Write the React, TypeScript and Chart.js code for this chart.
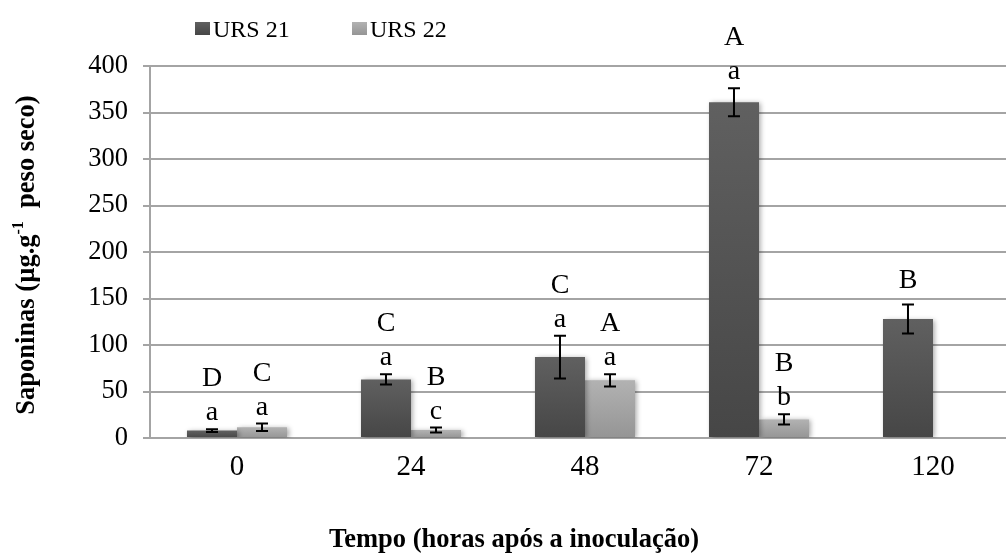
import React, { useEffect, useRef } from "react";
import { Chart, registerables } from "chart.js";

Chart.register(...registerables);

// ---- data ----
const categories = ["0", "24", "48", "72", "120"];
const seriesNames = ["URS 21", "URS 22"];
const urs21 = [8, 63, 87, 361, 128];
const urs22: (number | null)[] = [11.5, 8.5, 62, 20, null];
const urs21Err = [1.5, 5.5, 23, 15, 15.5];
const urs22Err = [4, 2.7, 6.5, 5.5, 0];
const urs21Upper = ["D", "C", "C", "A", "B"];
const urs21Lower = ["a", "a", "a", "a", ""];
const urs22Upper = ["C", "B", "A", "B", ""];
const urs22Lower = ["a", "c", "a", "b", ""];
const yMin = 0;
const yMax = 400;
const yStep = 50;
const yTitleMain = "Saponinas (µg.g";
const yTitleSup = "-1";
const yTitleEnd = "  peso seco)";
const xTitle = "Tempo (horas após a inoculação)";

const SERIF = "'Liberation Serif', 'Times New Roman', serif";
const DARK = ["#606060", "#464646"];
const LIGHT = ["#b2b2b2", "#959595"];
const GRID = "#a4a4a4";

function barGradient(colors: string[]) {
  return (ctx: any) => {
    const chart = ctx.chart;
    const area = chart.chartArea;
    if (!area || ctx.type !== "data") return colors[1];
    const v = ctx.raw;
    if (v == null) return colors[1];
    const y = chart.scales.y;
    const top = y.getPixelForValue(v);
    const bot = y.getPixelForValue(0);
    if (Math.abs(bot - top) < 1) return colors[1];
    const g = chart.ctx.createLinearGradient(0, top, 0, bot);
    g.addColorStop(0, colors[0]);
    g.addColorStop(1, colors[1]);
    return g;
  };
}

const errs = [urs21Err, urs22Err];
const uppers = [urs21Upper, urs22Upper];
const lowers = [urs21Lower, urs22Lower];

const shadowPlugin = {
  id: "barShadow",
  beforeDatasetsDraw(chart: any) {
    const c = chart.ctx;
    c.save();
    c.shadowColor = "rgba(0,0,0,0.35)";
    c.shadowBlur = 5;
    c.shadowOffsetX = 2;
    c.shadowOffsetY = 1;
  },
  afterDatasetsDraw(chart: any) {
    chart.ctx.restore();
  },
};

const annotatePlugin = {
  id: "annotate",
  afterDatasetsDraw(chart: any) {
    const c = chart.ctx;
    const y = chart.scales.y;
    c.save();
    c.strokeStyle = "#000";
    c.fillStyle = "#000";
    c.lineWidth = 2;
    c.font = `28px ${SERIF}`;
    c.textAlign = "center";
    c.textBaseline = "alphabetic";
    chart.data.datasets.forEach((ds: any, di: number) => {
      const meta = chart.getDatasetMeta(di);
      meta.data.forEach((el: any, i: number) => {
        const v = ds.data[i];
        if (v == null) return;
        const e = errs[di][i];
        const x = el.x;
        const yt = y.getPixelForValue(v + e);
        const yb = y.getPixelForValue(v - e);
        c.beginPath();
        c.moveTo(x, yt);
        c.lineTo(x, yb);
        c.moveTo(x - 6, yt);
        c.lineTo(x + 6, yt);
        c.moveTo(x - 6, yb);
        c.lineTo(x + 6, yb);
        c.stroke();
        const lo = lowers[di][i];
        const up = uppers[di][i];
        if (lo) {
          c.fillText(lo, x, yt - 9);
          if (up) c.fillText(up, x, yt - 43);
        } else if (up) {
          c.fillText(up, x, yt - 17);
        }
      });
    });
    c.restore();
  },
  afterDraw(chart: any) {
    const c = chart.ctx;
    c.save();
    // legend
    const legendItems = [
      { x: 195, colors: DARK, name: seriesNames[0] },
      { x: 352, colors: LIGHT, name: seriesNames[1] },
    ];
    c.font = `24px ${SERIF}`;
    c.textAlign = "left";
    c.textBaseline = "alphabetic";
    legendItems.forEach((it) => {
      const g = c.createLinearGradient(0, 22, 0, 35);
      g.addColorStop(0, it.colors[0]);
      g.addColorStop(1, it.colors[1]);
      c.fillStyle = g;
      c.fillRect(it.x, 22, 15, 13);
      c.fillStyle = "#000";
      c.fillText(it.name, it.x + 18, 37);
    });
    // x title
    c.font = `bold 26.5px ${SERIF}`;
    c.textAlign = "center";
    c.fillText(xTitle, 514, 547);
    // y title with superscript
    const mainFont = `bold 26.5px ${SERIF}`;
    const supFont = `bold 16px ${SERIF}`;
    c.font = mainFont;
    const w1 = c.measureText(yTitleMain).width;
    const w3 = c.measureText(yTitleEnd).width;
    c.font = supFont;
    const w2 = c.measureText(yTitleSup).width;
    const total = w1 + w2 + w3;
    const area = chart.chartArea;
    c.translate(25, (area.top + area.bottom) / 2 + 3);
    c.rotate(-Math.PI / 2);
    c.textAlign = "left";
    let sx = -total / 2;
    c.font = mainFont;
    c.fillText(yTitleMain, sx, 9);
    sx += w1;
    c.font = supFont;
    c.fillText(yTitleSup, sx, -2);
    sx += w2;
    c.font = mainFont;
    c.fillText(yTitleEnd, sx, 9);
    c.restore();
  },
};

export default function App() {
  const ref = useRef<HTMLCanvasElement | null>(null);
  useEffect(() => {
    if (!ref.current) return;
    const chart = new Chart(ref.current, {
      type: "bar",
      data: {
        labels: categories,
        datasets: [
          {
            label: seriesNames[0],
            data: urs21,
            backgroundColor: barGradient(DARK),
            borderWidth: 0,
            categoryPercentage: 0.575,
            barPercentage: 1,
          },
          {
            label: seriesNames[1],
            data: urs22,
            backgroundColor: barGradient(LIGHT),
            borderWidth: 0,
            categoryPercentage: 0.575,
            barPercentage: 1,
          },
        ],
      },
      options: {
        responsive: false,
        animation: false,
        layout: { padding: { top: 66, right: 10, left: 0, bottom: 0 } },
        plugins: {
          legend: { display: false },
          tooltip: { enabled: false },
          title: { display: false },
        },
        scales: {
          x: {
            grid: { display: false, drawTicks: false },
            border: { display: true, color: GRID, width: 2 },
            ticks: {
              color: "#000",
              font: { family: SERIF, size: 29 },
              padding: 12,
            },
            afterFit: (scale: any) => {
              scale.height = 116;
            },
          },
          y: {
            min: yMin,
            max: yMax,
            ticks: {
              stepSize: yStep,
              color: "#000",
              font: { family: SERIF, size: 26.5 },
              padding: 15,
            },
            grid: { color: GRID, lineWidth: 2, tickLength: 7 },
            border: { display: true, color: GRID, width: 2 },
            afterFit: (scale: any) => {
              scale.width = 150;
            },
          },
        },
      },
      plugins: [shadowPlugin, annotatePlugin],
    });
    return () => chart.destroy();
  }, []);
  return (
    <div
      style={{
        position: "absolute",
        left: 0,
        top: 0,
        width: 1006,
        height: 554,
        overflow: "hidden",
        background: "#fff",
      }}
    >
      <canvas ref={ref} width={1030} height={554} style={{ width: 1030, height: 554 }} />
    </div>
  );
}
